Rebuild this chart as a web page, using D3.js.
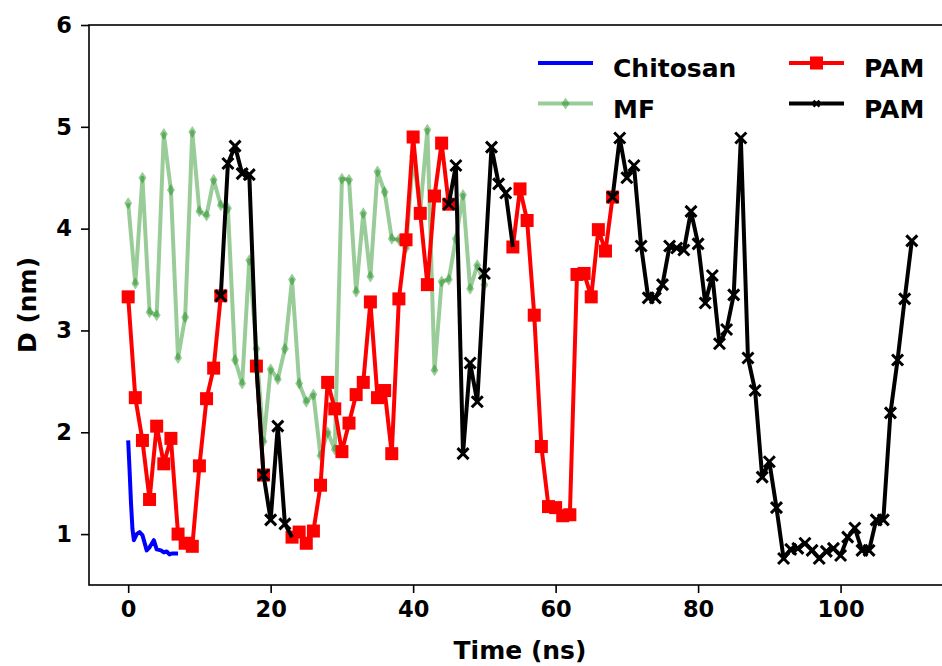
<!DOCTYPE html>
<html>
<head>
<meta charset="utf-8">
<script src="https://cdn.jsdelivr.net/npm/d3@7"></script>
<style>
  body { margin: 0; background: #fff; }
  svg { display: block; font-family: "DejaVu Sans", sans-serif; font-weight: bold; }
</style>
</head>
<body>
<div id="chart"></div>
<script>
// data
var chitosanT = [0, 0.2, 0.4, 0.6, 0.8, 1.2, 1.6, 2.0, 2.6, 3.0, 3.6, 4.0, 4.6, 5.0, 5.4, 5.8, 6.2, 7.0];
var chitosanD = [1.92, 1.62, 1.30, 1.05, 0.94, 1.00, 1.02, 0.99, 0.84, 0.87, 0.94, 0.85, 0.84, 0.82, 0.83, 0.80, 0.81, 0.81];

// MF, one value per ns from 0 to 50
var mfD = [4.25, 3.46, 4.50, 3.18, 3.15, 4.93, 4.38, 2.73, 3.13, 4.95,
  4.17, 4.13, 4.48, 4.23, 4.20, 2.71, 2.48, 3.69, 2.82, 1.91,
  2.62, 2.52, 2.82, 3.50, 2.48, 2.30, 2.37, 1.77, 2.00, 1.83,
  4.49, 4.48, 3.38, 4.15, 3.53, 4.56, 4.36, 3.90, 3.89, 3.81,
  4.71, 4.18, 4.97, 2.61, 3.48, 3.50, 3.90, 4.33, 3.41, 3.64, 3.45];

// PAM (red squares), one value per ns from 0 to 68, null = not drawn
var pamRedD = [3.33, 2.34, 1.92, 1.34, 2.06, 1.69, 1.94, 1.00, 0.91, 0.88, 1.67, 2.33, 2.63, 3.34,
  null, null, null, null,
  2.65, 1.58,
  null, null, null,
  0.97, 1.02, 0.91, 1.03, 1.48, 2.49, 2.23, 1.81, 2.09, 2.37, 2.49, 3.28, 2.34, 2.41, 1.79, 3.31,
  3.89, 4.90, 4.15, 3.45, 4.32, 4.84, 4.24,
  null, null, null, null, null, null, null, null,
  3.82, 4.39, 4.08, 3.15, 1.86, 1.27, 1.26, 1.18, 1.19, 3.55, 3.56, 3.33, 3.99, 3.78, 4.31];

// PAM (black crosses), one value per ns from 13 to 110
var pamBlackStart = 13;
var pamBlackD = [3.34, 4.64, 4.81, 4.54, 4.53, 2.65, 1.58, 1.14, 2.06, 1.10, 0.97,
  null, null, null, null, null, null, null, null, null, null, null,
  null, null, null, null, null, null, null, null, null, null,
  4.24, 4.62, 1.79, 2.68, 2.30, 3.56, 4.80, 4.44, 4.35, 3.82,
  null, null, null, null, null, null, null, null, null, null, null, null, null,
  4.31, 4.89, 4.50, 4.62, 3.83, 3.32, 3.32, 3.45, 3.83, 3.81, 3.79, 4.17, 3.85, 3.27, 3.54,
  2.87, 3.01, 3.35, 4.89, 2.73, 2.41, 1.56, 1.71, 1.26, 0.76, 0.85, 0.86, 0.91, 0.84, 0.76,
  0.83, 0.86, 0.79, 0.97, 1.06, 0.84, 0.84, 1.14, 1.14, 2.19, 2.71, 3.31, 3.88];
// points where the black line joins a red square without its own marker
var pamBlackNoMark = [18, 23, 54];

var xTicks = [0, 20, 40, 60, 80, 100];
var yTicks = [1, 2, 3, 4, 5, 6];

var legendItems = [
  { label: "Chitosan", key: "chitosan" },
  { label: "MF", key: "mf" },
  { label: "PAM", key: "red" },
  { label: "PAM", key: "black" }
];

// set the dimensions and margins of the graph
// (the right edge of the axes sits just outside the 942 px window)
var margin = { top: 25, left: 89 },
  width = 862,
  height = 560;

var svg = d3.select("#chart").append("svg")
  .attr("width", 942)
  .attr("height", 666)
  .append("g")
  .attr("transform", "translate(" + margin.left + "," + margin.top + ")");

// set the ranges
var x = d3.scaleLinear().domain([-5.5, 115.5]).range([0, width]);
var y = d3.scaleLinear().domain([0.5, 6]).range([height, 0]);

function toPoints(ts, ds) {
  return ds.map(function (d, i) { return { t: ts[i], d: d }; });
}
var chitosan = toPoints(chitosanT, chitosanD);
var mf = toPoints(d3.range(0, mfD.length), mfD);
var pamRed = toPoints(d3.range(0, pamRedD.length), pamRedD);
var pamBlack = toPoints(d3.range(pamBlackStart, pamBlackStart + pamBlackD.length), pamBlackD);

var line = d3.line()
  .defined(function (p) { return p.d !== null; })
  .x(function (p) { return x(p.t); })
  .y(function (p) { return y(p.d); });

var plot = svg.append("g");

// Chitosan
plot.append("path").datum(chitosan)
  .attr("fill", "none").attr("stroke", "#0000ff").attr("stroke-width", 4)
  .attr("stroke-linejoin", "round").attr("d", line);

// MF, semi transparent
var mfG = plot.append("g");
mfG.append("path").datum(mf)
  .attr("fill", "none").attr("stroke", "#008000").attr("stroke-opacity", 0.4)
  .attr("stroke-width", 4).attr("stroke-linejoin", "round").attr("d", line);
mfG.selectAll("path.m").data(mf).enter().append("path")
  .attr("class", "m")
  .attr("d", "M0,-6L4,0L0,6L-4,0Z")
  .attr("transform", function (p) { return "translate(" + x(p.t) + "," + y(p.d) + ")"; })
  .attr("fill", "#008000").attr("fill-opacity", 0.4);

// PAM red
plot.append("path").datum(pamRed)
  .attr("fill", "none").attr("stroke", "#ff0000").attr("stroke-width", 4)
  .attr("stroke-linejoin", "round").attr("d", line);
plot.selectAll("rect.sq").data(pamRed.filter(function (p) { return p.d !== null; }))
  .enter().append("rect")
  .attr("class", "sq")
  .attr("x", function (p) { return x(p.t) - 6.5; })
  .attr("y", function (p) { return y(p.d) - 6.5; })
  .attr("width", 13).attr("height", 13)
  .attr("fill", "#ff0000");

// PAM black
plot.append("path").datum(pamBlack)
  .attr("fill", "none").attr("stroke", "#000").attr("stroke-width", 4)
  .attr("stroke-linejoin", "round").attr("d", line);
plot.selectAll("path.x").data(pamBlack.filter(function (p) {
    return p.d !== null && pamBlackNoMark.indexOf(p.t) < 0;
  }))
  .enter().append("path")
  .attr("class", "x")
  .attr("d", "M-5.5,-5.5L5.5,5.5M-5.5,5.5L5.5,-5.5")
  .attr("transform", function (p) { return "translate(" + x(p.t) + "," + y(p.d) + ")"; })
  .attr("stroke", "#000").attr("stroke-width", 3);

// axes
var xAxis = svg.append("g")
  .attr("transform", "translate(0," + height + ")")
  .call(d3.axisBottom(x).tickValues(xTicks).tickFormat(d3.format("d")).tickSize(8).tickPadding(8));
var yAxis = svg.append("g")
  .call(d3.axisLeft(y).tickValues(yTicks).tickFormat(d3.format("d")).tickSize(8).tickPadding(9));
[xAxis, yAxis].forEach(function (a) {
  a.selectAll("text").attr("font-size", 22.5).attr("font-weight", "bold")
    .attr("font-family", "DejaVu Sans").attr("fill", "#000");
  a.selectAll("line").attr("stroke-width", 1.6);
  a.select(".domain").remove();
});

// frame
svg.append("rect")
  .attr("x", 0).attr("y", 0).attr("width", width).attr("height", height)
  .attr("fill", "none").attr("stroke", "#000").attr("stroke-width", 1.6);

// axis labels
svg.append("text")
  .attr("x", width / 2).attr("y", height + 74)
  .attr("text-anchor", "middle").attr("font-size", 25)
  .text("Time (ns)");
svg.append("text")
  .attr("transform", "translate(-53," + (height / 2) + ") rotate(-90)")
  .attr("text-anchor", "middle").attr("font-size", 25)
  .text("D (nm)");

// legend
var legend = svg.append("g").attr("transform", "translate(449,38)");
legendItems.forEach(function (it, i) {
  var g = legend.append("g")
    .attr("transform", "translate(" + (Math.floor(i / 2) * 251) + "," + ((i % 2) * 40.6) + ")");
  var hl = g.append("line").attr("x1", 0).attr("x2", 55).attr("y1", 0).attr("y2", 0)
    .attr("stroke-width", 4);
  if (it.key === "chitosan") hl.attr("stroke", "#0000ff");
  if (it.key === "mf") {
    hl.attr("stroke", "#008000").attr("stroke-opacity", 0.4);
    g.append("path").attr("d", "M27.5,-6L31.5,0L27.5,6L23.5,0Z")
      .attr("fill", "#008000").attr("fill-opacity", 0.4);
  }
  if (it.key === "red") {
    hl.attr("stroke", "#ff0000");
    g.append("rect").attr("x", 21).attr("y", -6.5).attr("width", 13).attr("height", 13)
      .attr("fill", "#ff0000");
  }
  if (it.key === "black") {
    hl.attr("stroke", "#000");
    g.append("path").attr("d", "M24.5,-3L30.5,3M24.5,3L30.5,-3")
      .attr("stroke", "#000").attr("stroke-width", 2.5);
  }
  g.append("text").attr("x", 75).attr("y", 14).attr("font-size", 25).text(it.label);
});
</script>
</body>
</html>
